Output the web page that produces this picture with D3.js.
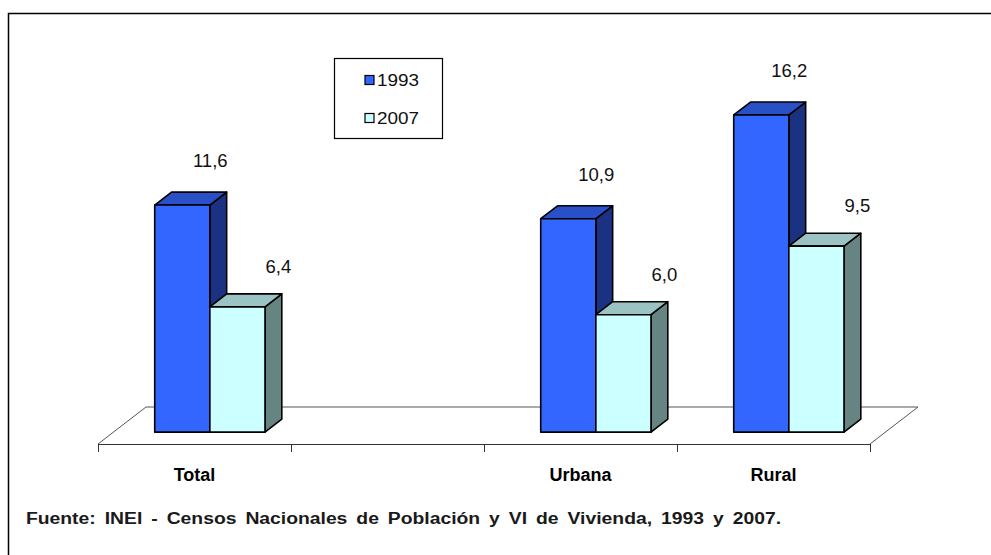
<!DOCTYPE html>
<html>
<head>
<meta charset="utf-8">
<script src="https://cdn.jsdelivr.net/npm/d3@7"></script>
<style>
  html, body { margin: 0; padding: 0; background: #fff; }
  svg { display: block; font-family: "Liberation Sans", Arial, sans-serif; }
</style>
</head>
<body>
<svg id="chart" width="991" height="555"></svg>
<script>
// ---- data ----
const categories = ["Total", "", "Urbana", "Rural"];
const seriesNames = ["1993", "2007"];
const values1993 = [11.6, null, 10.9, 16.2];
const values2007 = [6.4, null, 6.0, 9.5];
const valueLabels1993 = ["11,6", null, "10,9", "16,2"];
const valueLabels2007 = ["6,4", null, "6,0", "9,5"];
const sourceText = "Fuente: INEI - Censos Nacionales de Población y VI de Vivienda, 1993 y 2007.";

// ---- styles ----
const colors = {
  "1993": { front: "#3366FF", top: "#2A50C8", side: "#1B3282" },
  "2007": { front: "#CCFFFF", top: "#9CC3C3", side: "#658482" }
};
const labelOffset = { "1993": { dx: 28, dy: -38 }, "2007": { dx: 41, dy: -34 } };

const svg = d3.select("#chart");

// frame (left and top only, as in the reference)
svg.append("path").attr("d", "M8.5,555 L8.5,13.5 L991,13.5")
  .attr("fill", "none").attr("stroke", "#000").attr("stroke-width", 1.5);

// geometry
const floorLeft = 98, floorRight = 870, floorFrontY = 444;
const depth = { dx: 48, dy: -37 };
const barFrontFrac = 0.32, barDepthFrac = 0.35;
const bf = { dx: depth.dx * barFrontFrac, dy: depth.dy * barFrontFrac };
const bd = { dx: depth.dx * barDepthFrac, dy: depth.dy * barDepthFrac };
const baseY = floorFrontY + bf.dy;

const x0 = d3.scaleBand().domain(categories).range([floorLeft, floorRight]).padding(0);
const x1 = d3.scaleBand().domain(seriesNames).range([0, x0.bandwidth()])
  .paddingInner(0).paddingOuter(0.75);
const y = d3.scaleLinear().domain([0, 18]).range([baseY, baseY - 18 * 19.58]);

// floor
svg.append("path")
  .attr("d", `M${floorLeft},${floorFrontY} L${floorLeft + depth.dx},${floorFrontY + depth.dy} L${floorRight + depth.dx},${floorFrontY + depth.dy} L${floorRight},${floorFrontY}`)
  .attr("fill", "none").attr("stroke", "#555").attr("stroke-width", 1);

// x axis (front edge) with ticks at band boundaries
const axis = d3.axisBottom(x0).tickSize(0).tickFormat("");
const axisG = svg.append("g").attr("transform", `translate(0,${floorFrontY})`).call(axis);
axisG.select(".domain").attr("stroke", "#333").attr("stroke-width", 1.2);
const boundaries = categories.map(c => x0(c)).concat([x0(categories[categories.length - 1]) + x0.bandwidth()]);
axisG.selectAll("line.bound").data(boundaries).enter().append("line")
  .attr("class", "bound")
  .attr("x1", d => Math.round(d) + 0.5).attr("x2", d => Math.round(d) + 0.5)
  .attr("y1", 0).attr("y2", 8)
  .attr("stroke", "#333").attr("stroke-width", 1);

// category labels
svg.append("g").selectAll("text").data(categories).enter().append("text")
  .attr("x", d => x0(d) + x0.bandwidth() / 2)
  .attr("y", 481)
  .attr("text-anchor", "middle")
  .attr("font-size", 18).attr("font-weight", "bold").attr("fill", "#000")
  .text(d => d);

// bars
const seriesData = { "1993": values1993, "2007": values2007 };
const seriesLabels = { "1993": valueLabels1993, "2007": valueLabels2007 };
const barsG = svg.append("g");
categories.forEach((cat, i) => {
  seriesNames.forEach(s => {
    const v = seriesData[s][i];
    if (v == null) return;
    const xl = x0(cat) + x1(s) + bf.dx;
    const xr = xl + x1.bandwidth();
    const yt = y(v), yb = y(0);
    const c = colors[s];
    const g = barsG.append("g").attr("stroke", "#000").attr("stroke-width", 1.6).attr("stroke-linejoin", "round");
    g.append("path").attr("fill", c.side)
      .attr("d", `M${xr},${yb} L${xr + bd.dx},${yb + bd.dy} L${xr + bd.dx},${yt + bd.dy} L${xr},${yt} Z`);
    g.append("path").attr("fill", c.top)
      .attr("d", `M${xl},${yt} L${xl + bd.dx},${yt + bd.dy} L${xr + bd.dx},${yt + bd.dy} L${xr},${yt} Z`);
    g.append("rect").attr("fill", c.front)
      .attr("x", xl).attr("y", yt).attr("width", xr - xl).attr("height", yb - yt);
    svg.append("text")
      .attr("x", (xl + xr) / 2 + labelOffset[s].dx)
      .attr("y", yt + labelOffset[s].dy)
      .attr("text-anchor", "middle")
      .attr("font-size", 18.5).attr("fill", "#111")
      .text(seriesLabels[s][i]);
  });
});

// legend
const legend = svg.append("g");
legend.append("rect").attr("x", 334.5).attr("y", 58.5).attr("width", 108).attr("height", 80)
  .attr("fill", "#fff").attr("stroke", "#000").attr("stroke-width", 1.2);
seriesNames.forEach((s, i) => {
  const cy = 80 + i * 38;
  legend.append("rect").attr("x", 365).attr("y", cy - 4.5).attr("width", 9).attr("height", 9)
    .attr("fill", colors[s].front).attr("stroke", "#000").attr("stroke-width", 1.2);
  legend.append("text").attr("x", 377).attr("y", cy + 6)
    .attr("font-size", 17).attr("fill", "#111")
    .attr("textLength", 42).attr("lengthAdjust", "spacingAndGlyphs")
    .text(s);
});

// source note
svg.append("text").attr("x", 26).attr("y", 523.5)
  .attr("font-size", 16).attr("font-weight", "bold").attr("fill", "#1a1a1a")
  .attr("word-spacing", 3)
  .attr("textLength", 755).attr("lengthAdjust", "spacingAndGlyphs")
  .text(sourceText);
</script>
</body>
</html>
